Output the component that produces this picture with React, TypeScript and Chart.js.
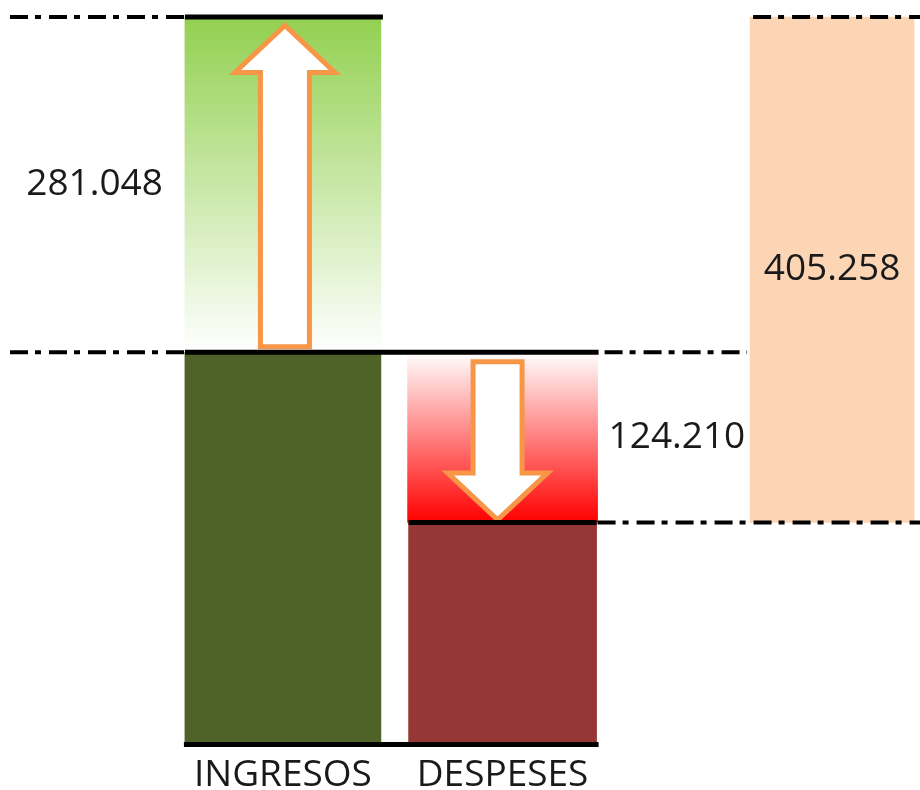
import React, { useEffect, useRef } from 'react';
import { Chart, registerables } from 'chart.js';

Chart.register(...registerables);

// Category slots (blank slots are spacing columns; the last one holds the total)
const CATEGORIES = ['INGRESOS', '', 'DESPESES', '', '', ''];
// Dark base bars (drawn height, thousands)
const BASE_VALUES = [314.6, null, 178.2, null, null, null];
// Floating change bars [from, to]
const CHANGE_RANGES: (number[] | null)[] = [[314.6, 583.5], null, [178.2, 314.6], null, null, null];
// Floating total bar [from, to]
const TOTAL_RANGES: (number[] | null)[] = [null, null, null, null, null, [178.2, 583.5]];
// Printed values
const CHANGE_LABELS = ['281.048', null, '124.210', null, null, null];
const TOTAL_LABELS = [null, null, null, null, null, '405.258'];

const FONT = '"Open Sans", "Noto Sans", sans-serif';
const TEXT_COLOR = '#1a1a1a';

const pick = <T,>(arr: T[], idx: number): (T | null)[] => arr.map((v, k) => (k === idx ? v : null));

const ING = CATEGORIES.indexOf('INGRESOS');
const DES = CATEGORIES.indexOf('DESPESES');
const TOT = TOTAL_RANGES.findIndex((v) => v !== null);

function gradientFill(topColor: string, bottomColor: string) {
  return (c: any) => {
    const chart = c.chart;
    const r = c.raw as number[] | null;
    if (!chart.chartArea || !r) return topColor;
    const ys = chart.scales.y;
    const top = ys.getPixelForValue(Math.max(r[0], r[1]));
    const bot = ys.getPixelForValue(Math.min(r[0], r[1]));
    const g = chart.ctx.createLinearGradient(0, top, 0, bot);
    g.addColorStop(0, topColor);
    g.addColorStop(1, bottomColor);
    return g;
  };
}

function drawArrow(ctx: CanvasRenderingContext2D, cx: number, tailY: number, tipY: number) {
  const shaftW = 49;
  const headW = 100;
  const headLen = 47;
  const d = tipY < tailY ? 1 : -1; // 1 = pointing up
  const baseY = tipY + d * headLen;
  ctx.save();
  ctx.beginPath();
  ctx.moveTo(cx - shaftW / 2, tailY);
  ctx.lineTo(cx - shaftW / 2, baseY);
  ctx.lineTo(cx - headW / 2, baseY);
  ctx.lineTo(cx, tipY);
  ctx.lineTo(cx + headW / 2, baseY);
  ctx.lineTo(cx + shaftW / 2, baseY);
  ctx.lineTo(cx + shaftW / 2, tailY);
  ctx.closePath();
  ctx.fillStyle = '#FFFFFF';
  ctx.fill();
  ctx.lineWidth = 5;
  ctx.lineJoin = 'miter';
  ctx.strokeStyle = '#F79646';
  ctx.stroke();
  ctx.restore();
}

const overlayPlugin = {
  id: 'overlay',
  afterDatasetsDraw(chart: any) {
    const ctx: CanvasRenderingContext2D = chart.ctx;
    const ys = chart.scales.y;
    const ingB = chart.getDatasetMeta(0).data[ING];
    const ingC = chart.getDatasetMeta(1).data[ING];
    const desB = chart.getDatasetMeta(2).data[DES];
    const desC = chart.getDatasetMeta(3).data[DES];
    const tot = chart.getDatasetMeta(4).data[TOT];
    if (!ingB || !ingC || !desB || !desC || !tot) return;
    const xL = (el: any) => el.x - el.width / 2;
    const xR = (el: any) => el.x + el.width / 2;
    const W = chart.width;

    // arrows
    drawArrow(ctx, ingC.x + 2, ingC.base - 5.5, ingC.y + 8.5);
    drawArrow(ctx, desC.x - 5, desC.y + 9.5, desC.base - 2.5);

    const line = (x1: number, x2: number, y: number, width: number, dash: number[]) => {
      ctx.save();
      ctx.beginPath();
      ctx.setLineDash(dash);
      ctx.lineWidth = width;
      ctx.lineCap = 'butt';
      ctx.strokeStyle = '#000000';
      ctx.moveTo(x1, y);
      ctx.lineTo(x2, y);
      ctx.stroke();
      ctx.restore();
    };

    const yTop = ingC.y;
    const yMid = ingB.y;
    const yLow = desB.y;
    const yZero = ys.getPixelForValue(0);
    const dashDot = [18, 7, 6, 8];

    // dash-dot guide lines
    line(10, xL(ingC), yTop, 4, dashDot);
    line(xL(tot) + 3, W, tot.y, 4, dashDot);
    line(10, xL(ingB), yMid, 4, dashDot);
    line(xR(desC) + 7, xL(tot) - 3, yMid, 4, dashDot);
    line(xR(desC), W, yLow, 4, dashDot);

    // solid black level lines
    line(xL(ingC), xR(ingC) + 2, yTop, 5, []);
    line(xL(ingB), xR(desC) + 1, yMid, 5, []);
    line(xL(desB), xR(desB), yLow, 5, []);
    line(xL(ingB) - 1, xR(desC) + 1, yZero, 5, []);

    // value labels
    ctx.save();
    ctx.font = `37px ${FONT}`;
    ctx.fillStyle = TEXT_COLOR;
    ctx.textBaseline = 'middle';
    if (CHANGE_LABELS[ING]) {
      ctx.textAlign = 'right';
      ctx.fillText(CHANGE_LABELS[ING] as string, xL(ingC) - 22, (ingC.y + ingC.base) / 2);
    }
    if (CHANGE_LABELS[DES]) {
      ctx.textAlign = 'left';
      ctx.fillText(CHANGE_LABELS[DES] as string, xR(desC) + 11, (desC.y + desC.base) / 2);
    }
    if (TOTAL_LABELS[TOT]) {
      ctx.textAlign = 'center';
      ctx.fillText(TOTAL_LABELS[TOT] as string, tot.x, (tot.y + tot.base) / 2);
    }
    ctx.restore();
  },
};

export default function App() {
  const canvasRef = useRef<HTMLCanvasElement | null>(null);

  useEffect(() => {
    if (!canvasRef.current) return;
    const common = { grouped: false, borderWidth: 0, clip: false as any };
    const chart = new Chart(canvasRef.current, {
      type: 'bar',
      data: {
        labels: CATEGORIES,
        datasets: [
          { ...common, label: 'Ingresos base', data: pick(BASE_VALUES, ING) as any, backgroundColor: '#4F6228', barThickness: 196 },
          { ...common, label: 'Ingresos', data: pick(CHANGE_RANGES, ING) as any, backgroundColor: gradientFill('#92D050', '#FFFFFF'), barThickness: 196 },
          { ...common, label: 'Despeses base', data: pick(BASE_VALUES, DES) as any, backgroundColor: '#953735', barThickness: 188 },
          { ...common, label: 'Despeses', data: pick(CHANGE_RANGES, DES) as any, backgroundColor: gradientFill('#FFFFFF', '#FF0000'), barThickness: 190 },
          { ...common, label: 'Total', data: TOTAL_RANGES as any, backgroundColor: '#FCD5B5', barThickness: 164 },
        ],
      },
      options: {
        responsive: false,
        animation: false,
        devicePixelRatio: 1,
        layout: { padding: { left: 228, right: 33, top: 17, bottom: 3 } },
        plugins: { legend: { display: false }, tooltip: { enabled: false } },
        scales: {
          x: {
            type: 'category',
            grid: { display: false, drawTicks: false },
            border: { display: false },
            ticks: {
              autoSkip: false,
              maxRotation: 0,
              padding: 9,
              color: TEXT_COLOR,
              font: { family: FONT, size: 37 },
            },
          },
          y: {
            display: false,
            min: 0,
            max: 583.5,
          },
        },
      },
      plugins: [overlayPlugin],
    });
    return () => chart.destroy();
  }, []);

  return (
    <div style={{ position: 'fixed', left: 0, top: 0, width: 920, height: 790, overflow: 'hidden', background: '#ffffff' }}>
      <canvas ref={canvasRef} width={920} height={810} style={{ display: 'block' }} />
    </div>
  );
}
